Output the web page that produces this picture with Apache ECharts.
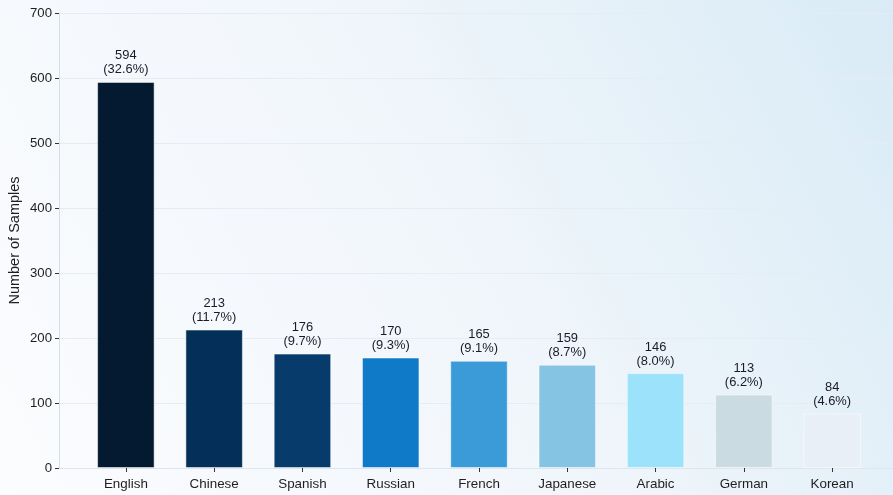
<!DOCTYPE html>
<html>
<head>
<meta charset="utf-8">
<script src="https://cdn.jsdelivr.net/npm/echarts@6/dist/echarts.min.js"></script>
<style>
  html, body { margin: 0; padding: 0; }
  #chart { width: 893px; height: 495px; }
</style>
</head>
<body>
<div id="chart"></div>
<script>
// languages and sample counts
var languages = ['English', 'Chinese', 'Spanish', 'Russian', 'French', 'Japanese', 'Arabic', 'German', 'Korean'];
var samples = [594, 213, 176, 170, 165, 159, 146, 113, 84];
var shares = ['32.6%', '11.7%', '9.7%', '9.3%', '9.1%', '8.7%', '8.0%', '6.2%', '4.6%'];
var barColors = ['#041a31', '#042f58', '#073b6b', '#0f7ac8', '#3b9ad8', '#86c4e4', '#9ce2fb', '#cbdbe2', '#e9eff7'];
var positions = [0, 1, 2, 3, 4, 5, 6, 7, 8];

var mychart = echarts.init(document.getElementById('chart'));

var barData = samples.map(function (v, i) {
  return {
    value: [positions[i], v],
    itemStyle: { color: barColors[i] }
  };
});

var option = {
  animation: false,
  backgroundColor: {
    type: 'linear', x: 0, y: 1, x2: 1, y2: 0,
    colorStops: [
      { offset: 0, color: '#fbfcfe' },
      { offset: 0.5, color: '#f1f6fb' },
      { offset: 1, color: '#d9ebf6' }
    ]
  },
  textStyle: { fontFamily: 'Liberation Sans, Arial, sans-serif' },
  grid: { left: 59, top: 13, width: 840, height: 455, outerBoundsMode: 'none', containLabel: false },
  xAxis: {
    type: 'value',
    min: -0.7575,
    max: 8.7575,
    axisLine: { show: true, onZero: false, lineStyle: { color: '#dde5ee', width: 1 } },
    splitLine: { show: false },
    axisTick: {
      show: true, length: 4, customValues: positions,
      lineStyle: { color: '#333' }
    },
    axisLabel: {
      customValues: positions,
      color: '#1e1e1e', fontSize: 13.4, margin: 10,
      formatter: function (v) { return languages[Math.round(v)]; }
    }
  },
  yAxis: {
    type: 'value',
    min: 0,
    max: 700,
    interval: 100,
    name: 'Number of Samples',
    nameLocation: 'middle',
    nameGap: 37,
    nameMoveOverlap: false,
    nameTextStyle: { color: '#1e1e1e', fontSize: 14.5 },
    axisLine: { show: true, onZero: false, lineStyle: { color: '#d3dfe9', width: 1 } },
    axisTick: { show: true, length: 4, lineStyle: { color: '#333' } },
    axisLabel: { color: '#1e1e1e', fontSize: 13.2, margin: 7 },
    splitLine: { lineStyle: { color: '#e5ecf2', width: 1 } }
  },
  series: [{
    type: 'bar',
    barWidth: 57.5,
    data: barData,
    itemStyle: { borderColor: 'rgba(255,255,255,0.5)', borderWidth: 1 },
    label: {
      show: true,
      position: 'top',
      distance: 5,
      color: '#1a1a2a',
      fontSize: 12.9,
      lineHeight: 14,
      align: 'center',
      formatter: function (p) {
        return samples[p.dataIndex] + '\n(' + shares[p.dataIndex] + ')';
      }
    }
  }]
};

mychart.setOption(option);
</script>
</body>
</html>
